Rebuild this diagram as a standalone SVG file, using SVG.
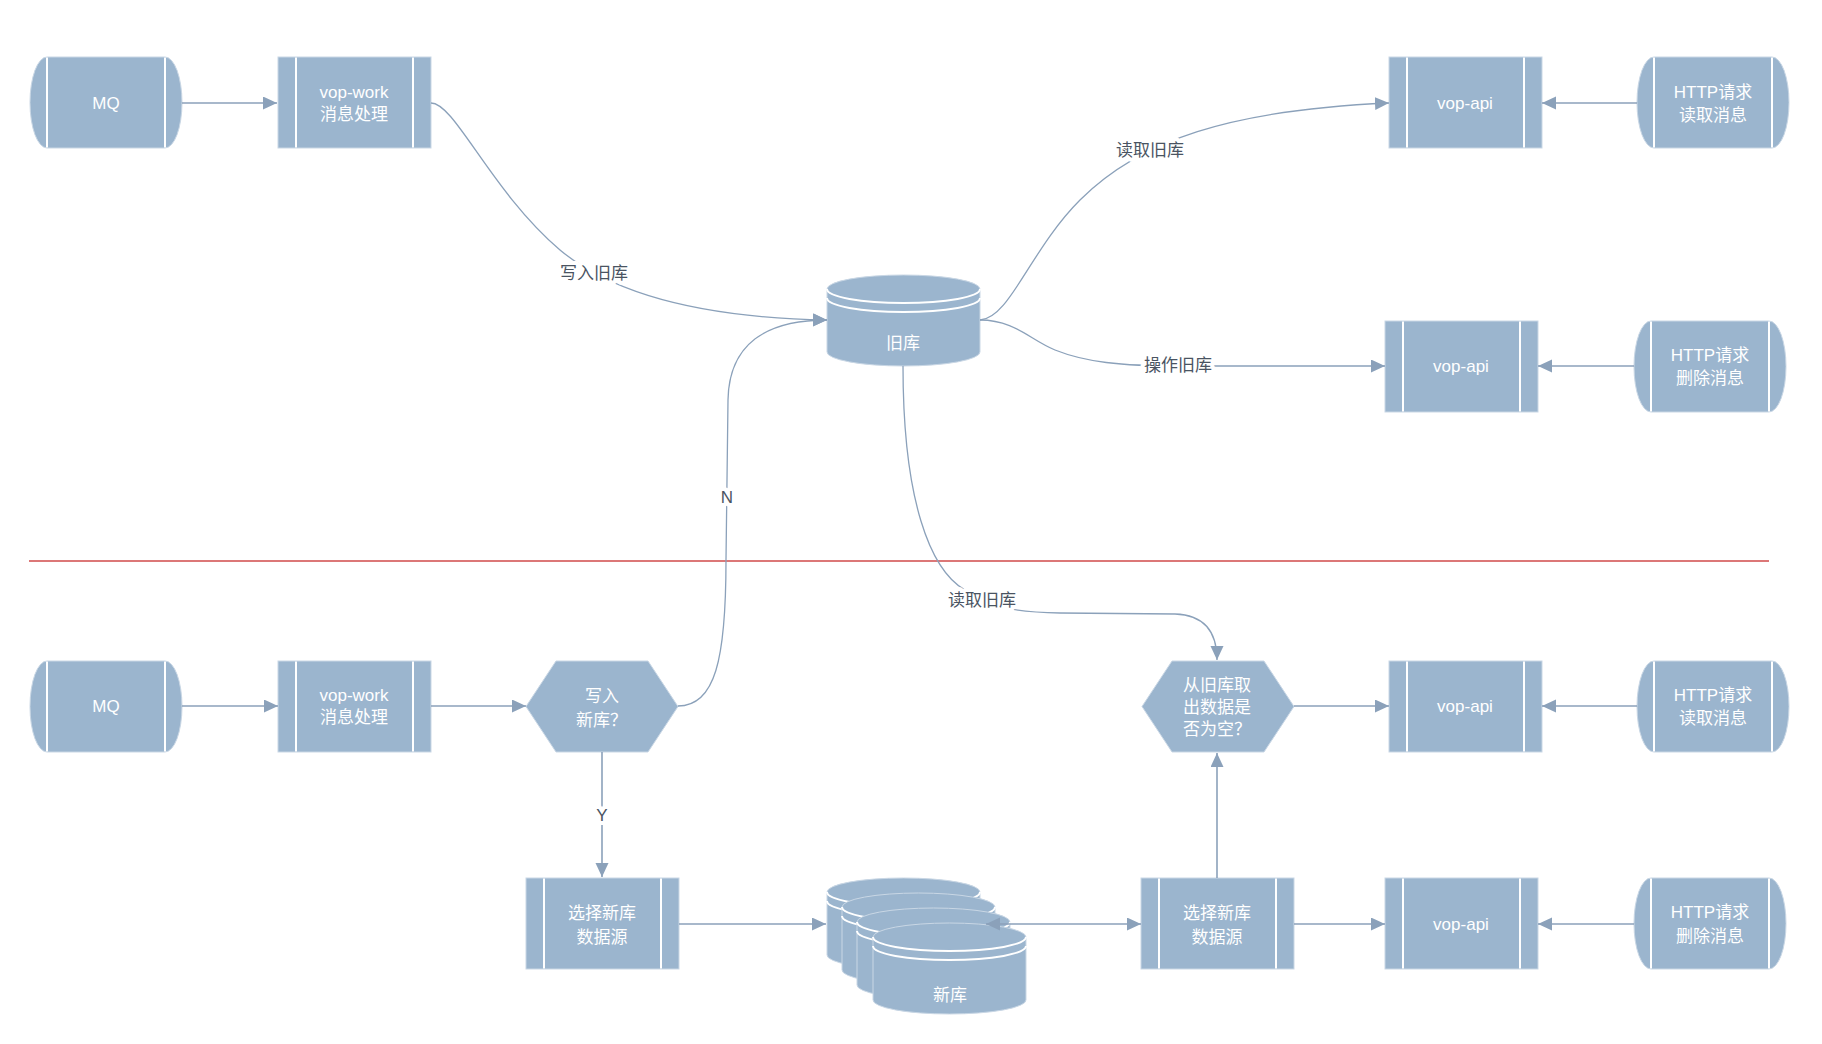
<svg xmlns="http://www.w3.org/2000/svg" xmlns:xlink="http://www.w3.org/1999/xlink" width="1822" height="1044" viewBox="0 0 1822 1044">
<defs>
<style>
.shape{fill:#9bb5ce;stroke:#c9d7e5;stroke-width:1}
.inner{stroke:#ffffff;stroke-width:2;fill:none}
.nt{font-family:"Liberation Sans","Noto Sans CJK SC",sans-serif;font-size:17px;fill:#ffffff;text-anchor:middle;dominant-baseline:central}
.st{text-anchor:start}
.lbl{font-family:"Liberation Sans","Noto Sans CJK SC",sans-serif;font-size:17px;fill:#4a5462;text-anchor:middle;dominant-baseline:central;stroke:#ffffff;stroke-width:8px;paint-order:stroke;stroke-linejoin:round}
.edge{fill:none;stroke:#8ba1ba;stroke-width:1.3}
.edge2{fill:none;stroke:#8ba1ba;stroke-width:1.6}
</style>
<marker id="ah" markerUnits="userSpaceOnUse" markerWidth="15" markerHeight="14" refX="14" refY="6.5" orient="auto-start-reverse" viewBox="0 0 15 14">
<path d="M0,0 L14,6.5 L0,13 Z" fill="#8ba1ba"/>
</marker>
<g id="term">
<path class="shape" d="M17,0 H135 A17,45.5 0 0 1 135,91 H17 A17,45.5 0 0 1 17,0 Z"/>
<path class="inner" d="M17,0.5 V90.5 M135,0.5 V90.5"/>
</g>
<g id="proc">
<rect class="shape" x="0" y="0" width="153" height="91"/>
<path class="inner" d="M18,0.5 V90.5 M135,0.5 V90.5"/>
</g>
<g id="hex">
<polygon class="shape" points="0,45.5 30,0 122,0 152,45.5 122,91 30,91"/>
</g>
<g id="cyl">
<path class="shape" d="M0,14 A76.5,14 0 0 1 153,14 V77 A76.5,14 0 0 1 0,77 Z"/>
<path class="inner" d="M0,14 A76.5,14 0 0 0 153,14 M0,23 A76.5,14 0 0 0 153,23" stroke-width="1.8"/>
</g>
</defs>
<rect x="0" y="0" width="1822" height="1044" fill="#ffffff"/>

<line x1="29" y1="561" x2="1769" y2="561" stroke="#d04a4a" stroke-width="1.3"/>

<g id="mq-top"><use xlink:href="#term" x="30" y="57"/><text class="nt" x="106" y="103">MQ</text></g>
<g id="vopwork-top"><use xlink:href="#proc" x="278" y="57"/><text class="nt" x="354" y="92">vop-work</text><text class="nt" x="354" y="114">消息处理</text></g>
<g id="olddb"><use xlink:href="#cyl" x="827" y="275"/><text class="nt" x="903" y="343">旧库</text></g>
<g id="vopapi-top1"><use xlink:href="#proc" x="1389" y="57"/><text class="nt" x="1465" y="103">vop-api</text></g>
<g id="http-top1"><use xlink:href="#term" x="1637" y="57"/><text class="nt" x="1713" y="92">HTTP请求</text><text class="nt" x="1713" y="115">读取消息</text></g>
<g id="vopapi-top2"><use xlink:href="#proc" x="1385" y="321"/><text class="nt" x="1461" y="366">vop-api</text></g>
<g id="http-top2"><use xlink:href="#term" x="1634" y="321"/><text class="nt" x="1710" y="355">HTTP请求</text><text class="nt" x="1710" y="378">删除消息</text></g>

<g id="mq-bot"><use xlink:href="#term" x="30" y="661"/><text class="nt" x="106" y="706">MQ</text></g>
<g id="vopwork-bot"><use xlink:href="#proc" x="278" y="661"/><text class="nt" x="354" y="695">vop-work</text><text class="nt" x="354" y="717">消息处理</text></g>
<g id="decide-write"><use xlink:href="#hex" x="526" y="661"/><text class="nt" x="602" y="696">写入</text><text class="nt st" x="576" y="720">新库？</text></g>
<g id="select-left"><use xlink:href="#proc" x="526" y="878"/><text class="nt" x="602" y="913">选择新库</text><text class="nt" x="602" y="937">数据源</text></g>
<g id="newdb">
<use xlink:href="#cyl" x="827" y="878"/>
<use xlink:href="#cyl" x="842" y="893"/>
<use xlink:href="#cyl" x="857" y="908"/>
<use xlink:href="#cyl" x="873" y="923"/>
<text class="nt" x="950" y="995">新库</text>
</g>
<g id="decide-read"><use xlink:href="#hex" x="1142" y="661"/><text class="nt st" x="1183" y="685">从旧库取</text><text class="nt st" x="1183" y="707">出数据是</text><text class="nt st" x="1183" y="729">否为空？</text></g>
<g id="select-right"><use xlink:href="#proc" x="1141" y="878"/><text class="nt" x="1217" y="913">选择新库</text><text class="nt" x="1217" y="937">数据源</text></g>
<g id="vopapi-bot1"><use xlink:href="#proc" x="1389" y="661"/><text class="nt" x="1465" y="706">vop-api</text></g>
<g id="http-bot1"><use xlink:href="#term" x="1637" y="661"/><text class="nt" x="1713" y="695">HTTP请求</text><text class="nt" x="1713" y="718">读取消息</text></g>
<g id="vopapi-bot2"><use xlink:href="#proc" x="1385" y="878"/><text class="nt" x="1461" y="924">vop-api</text></g>
<g id="http-bot2"><use xlink:href="#term" x="1634" y="878"/><text class="nt" x="1710" y="912">HTTP请求</text><text class="nt" x="1710" y="936">删除消息</text></g>

<g id="connectors">
<path class="edge2" d="M182,103 H277" marker-end="url(#ah)"/>
<path class="edge" d="M431,103 C455,103 490,190 560,250 C620,300 720,318 827,320" marker-end="url(#ah)"/>
<path class="edge" d="M980,320 C1010,318 1030,250 1080,200 C1140,140 1230,110 1389,103" marker-end="url(#ah)"/>
<path class="edge" d="M980,320 C1015,320 1030,340 1055,350 C1085,362 1120,366 1180,366 L1385,366" marker-end="url(#ah)"/>
<path class="edge2" d="M1637,103 H1542" marker-end="url(#ah)"/>
<path class="edge2" d="M1634,366 H1538" marker-end="url(#ah)"/>
<path class="edge" d="M903,366 C903,500 930,570 965,590 C985,603 1000,612 1060,613 L1175,614 C1205,615 1217,632 1217,660" marker-end="url(#ah)"/>
<path class="edge" d="M678,706 C715,706 726,660 726,560 L728,400 C729,345 765,320 827,320" marker-end="url(#ah)"/>
<path class="edge2" d="M182,706 H278" marker-end="url(#ah)"/>
<path class="edge2" d="M431,706 H526" marker-end="url(#ah)"/>
<path class="edge2" d="M602,752 V877" marker-end="url(#ah)"/>
<path class="edge2" d="M679,924 H826" marker-end="url(#ah)"/>
<path class="edge2" d="M986,924 H1141" marker-start="url(#ah)" marker-end="url(#ah)"/>
<path class="edge2" d="M1217,878 V753" marker-end="url(#ah)"/>
<path class="edge2" d="M1294,706 H1389" marker-end="url(#ah)"/>
<path class="edge2" d="M1637,706 H1542" marker-end="url(#ah)"/>
<path class="edge2" d="M1294,924 H1385" marker-end="url(#ah)"/>
<path class="edge2" d="M1634,924 H1538" marker-end="url(#ah)"/>
<text class="lbl" x="594" y="273">写入旧库</text>
<text class="lbl" x="1150" y="150">读取旧库</text>
<text class="lbl" x="1178" y="365">操作旧库</text>
<text class="lbl" x="727" y="497">N</text>
<text class="lbl" x="982" y="600">读取旧库</text>
<text class="lbl" x="602" y="815">Y</text>
</g>
</svg>
